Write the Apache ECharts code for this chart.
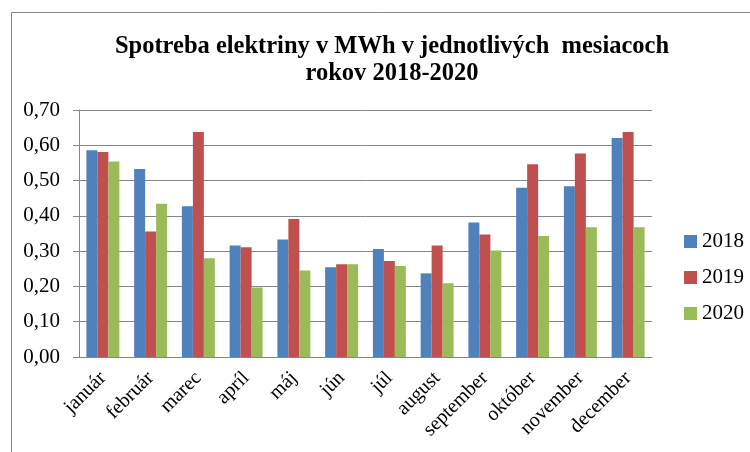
<!DOCTYPE html>
<html>
<head>
<meta charset="utf-8">
<script src="https://cdn.jsdelivr.net/npm/echarts@6/dist/echarts.min.js"></script>
<style>
  html, body { margin: 0; padding: 0; background: #fff; }
  #chart { width: 750px; height: 452px; }
</style>
</head>
<body>
<div id="chart"></div>
<script>
const months = ['január', 'február', 'marec', 'apríl', 'máj', 'jún', 'júl', 'august', 'september', 'október', 'november', 'december']
const years = ['2018', '2019', '2020']
const v2018 = [0.586, 0.533, 0.427, 0.316, 0.333, 0.254, 0.306, 0.237, 0.381, 0.480, 0.484, 0.621]
const v2019 = [0.581, 0.356, 0.638, 0.311, 0.391, 0.263, 0.272, 0.316, 0.347, 0.546, 0.577, 0.638]
const v2020 = [0.554, 0.434, 0.280, 0.197, 0.245, 0.263, 0.258, 0.209, 0.302, 0.343, 0.368, 0.368]
const yTicks = [0, 0.1, 0.2, 0.3, 0.4, 0.5, 0.6, 0.7]

const font = "'Liberation Serif', 'Times New Roman', serif"
const colors = ['#4F81BD', '#C0504D', '#9BBB59']
const gridGray = '#868686'

const chart = echarts.init(document.getElementById('chart'))
chart.setOption({
  animation: false,
  title: {
    text: 'Spotreba elektriny v MWh v jednotlivých  mesiacoch\nrokov 2018-2020',
    left: 387, top: 28, textAlign: 'center',
    textStyle: { fontFamily: font, fontSize: 24.5, fontWeight: 'bold', color: '#000', lineHeight: 27 }
  },
  graphic: [{
    type: 'rect', shape: { x: 11.5, y: 12.5, width: 800, height: 500 },
    style: { fill: 'none', stroke: gridGray, lineWidth: 1 }, silent: true
  }],
  legend: {
    data: years, orient: 'vertical', left: 679, top: 226,
    icon: 'rect', itemWidth: 13, itemHeight: 13, itemGap: 15,
    textStyle: { fontFamily: font, fontSize: 21, color: '#000' }
  },
  grid: { left: 79, right: 98, top: 110, bottom: 95 },
  xAxis: {
    type: 'category', data: months,
    axisLine: { lineStyle: { color: gridGray } },
    axisTick: { length: 6, lineStyle: { color: gridGray } },
    axisLabel: { rotate: 45, fontFamily: font, fontSize: 20, color: '#000', margin: 18, interval: 0 }
  },
  yAxis: {
    type: 'value', min: 0, max: 0.7, interval: 0.1,
    axisLine: { show: true, lineStyle: { color: gridGray } },
    axisTick: { show: true, length: 6, lineStyle: { color: gridGray } },
    splitLine: { lineStyle: { color: gridGray } },
    axisLabel: {
      fontFamily: font, fontSize: 21, color: '#000', margin: 19,
      formatter: v => yTicks.includes(Math.round(v * 10) / 10) ? v.toFixed(2).replace('.', ',') : ''
    }
  },
  series: [v2018, v2019, v2020].map((d, i) => ({
    name: years[i], type: 'bar', data: d,
    barGap: 0, barCategoryGap: '31%',
    itemStyle: { color: colors[i] }
  }))
})
</script>
</body>
</html>
